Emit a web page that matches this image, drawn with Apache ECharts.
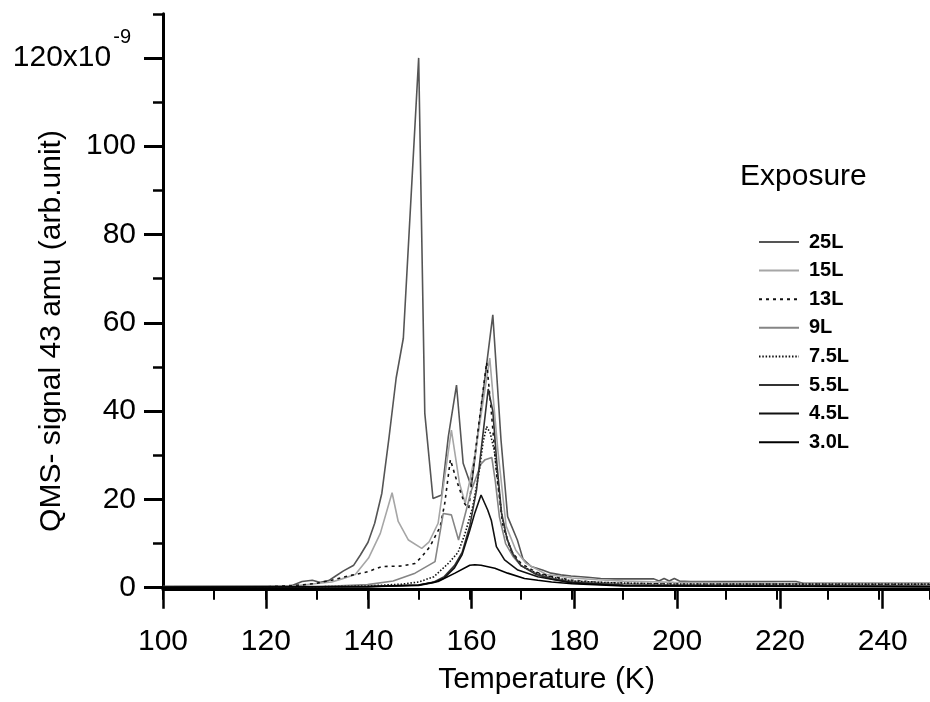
<!DOCTYPE html>
<html><head><meta charset="utf-8">
<script src="https://cdn.jsdelivr.net/npm/echarts@6/dist/echarts.min.js"></script>
<style>html,body{margin:0;padding:0;background:#fff}#c{width:930px;height:702px}</style>
</head><body><div id="c"></div>
<script>
// ---- data (Temperature in K, signal in units of 1e-9) ----
const seriesNames = ['25L','15L','13L','9L','7.5L','5.5L','4.5L','3.0L'];
const xTickLabels = [100,120,140,160,180,200,220,240];
const yTickLabels = [0,20,40,60,80,100,120];

const t25 = [100,110,120,125,127.2,129.2,130.8,132.4,133.7,135.3,137.3,138.6,140.1,141.4,142.8,144.2,145.6,147,150,151.2,152.8,154.5,155.8,157.4,158.7,160.3,164.5,166.1,167.4,169.3,170.4,172,174.2,175.9,177.8,179.8,183,185.6,188.2,196,197,198,199,200,201,203.1,223.8,225.2,250];
const v25 = [0.3,0.3,0.3,0.4,1.4,1.7,1.2,1.6,2.6,3.8,5.1,7.4,10.3,14.6,21.4,34,47.5,56.5,120,39.5,20.2,21,34.2,45.9,28.2,22.9,61.8,33.5,16.1,10.8,6.5,4.8,4,3.3,2.9,2.65,2.35,2.1,2.0,2.0,1.5,2.1,1.5,2.1,1.5,1.4,1.4,1.0,1.0];

const t15 = [100,115,125,130.5,133,135,137.6,140.2,142.5,144.8,146,148,150.6,152,153.8,156.4,158,159.1,161,163.9,165.5,167.1,169,171,175,180,185,190,200,220,250];
const v15 = [0.2,0.2,0.3,1.0,1.3,2,3,6.7,12.3,21.5,15,10.8,8.9,10.3,14.6,35.7,23.6,19.1,30,52,31,14,8.5,5.5,3.0,2.2,1.8,1.5,1.2,1.0,0.9];

const t13 = [100,120,127,130,133,136,140,142.8,146.7,149.3,150.6,152.2,154.2,155.1,156.2,157.5,159,159.8,161,162.3,163.3,164.2,165.3,166.5,168,170,173,176,180,185,190,200,250];
const v13 = [0.2,0.2,0.6,1.0,1.7,2.6,3.6,4.8,4.9,5.5,7,9.3,13.8,19.1,29,24,19,18,30,42,51,40,25,14,8.5,5.5,3.5,2.5,1.7,1.2,1.0,0.8,0.7];

const t9 = [100,130,140,145,149.3,153.2,154.8,156.4,157.8,160.3,162.2,163,164.3,165,165.8,167,168.5,170,173,176,180,190,200,250];
const v9 = [0.2,0.2,0.7,1.5,3.3,5.9,16.8,16.5,10.8,22,28,29,29.5,24,16,10,7,5,3.2,2.2,1.5,0.9,0.6,0.5];

const t75 = [100,130,140,146.7,150,153,155.8,157.7,159,160.5,161.8,162.6,163.3,164,164.8,165.5,166.3,167.3,168.5,170,173,176,180,188,200,250];
const v75 = [0.2,0.2,0.4,0.8,1.3,2.5,5.5,8,12,18,26,33,36.5,35,31,24,16,11,7.5,5,3.3,2.4,1.5,1.1,0.8,0.8];

const t55 = [100,140,150,153,155,157,158.5,160,161.3,162.3,163.6,164.5,165.3,166.2,167.3,168.5,170,173,176,180,190,250];
const v55 = [0.2,0.3,0.6,1.3,2.5,5,8,14,22,32,45,40,28,17,11,7.5,5,3,2,1.2,0.6,0.3];

const t45 = [100,140,150,153,155,157,158.5,160,161,162.2,163.5,164.2,165.2,166.8,169.4,173.3,176,180,190,250];
const v45 = [0.1,0.2,0.5,1.2,2.2,4.5,7.5,13,17,21,17.6,15.3,9.3,6.3,4,2.5,1.9,1.1,0.5,0.2];

const t30 = [100,140,150,153.8,157.1,160,161,162.2,164.9,167.4,170.7,173.3,176,180,190,250];
const v30 = [0.1,0.2,0.6,1.4,3.3,5.1,5.2,5.1,4.4,3.3,2.1,1.7,1.3,0.9,0.4,0.2];

const seriesT = [t25,t15,t13,t9,t75,t55,t45,t30];
const seriesV = [v25,v15,v13,v9,v75,v55,v45,v30];

// ---- styles ----
const styles = [
  {color:'#555555', width:1.6, type:'solid'},
  {color:'#a6a6a6', width:1.6, type:'solid'},
  {color:'#111111', width:1.6, type:[3,4]},
  {color:'#858585', width:1.6, type:'solid'},
  {color:'#111111', width:1.6, type:[1.5,1.8]},
  {color:'#333333', width:1.6, type:'solid'},
  {color:'#111111', width:1.6, type:'solid'},
  {color:'#000000', width:1.6, type:'solid'}
];

const FONT = 'Liberation Sans, Arial, sans-serif';
const FS = 30;
const L = 163, PXK = 5.141, Y0 = 587.7, PXV = 4.415;
const H = 702, W = 930;
const gridMain = {left:L, right: W-(L+150*PXK), top: Y0-130*PXV, bottom: H-Y0};
const gridMajor = {left:L, right: W-(L+140*PXK), top: Y0-120*PXV, bottom: H-Y0};

const chart = echarts.init(document.getElementById('c'), null, {renderer:'canvas'});
const series = seriesNames.map((n,i)=>({
  name:n, type:'line', xAxisIndex:0, yAxisIndex:0, symbol:'none', showSymbol:false,
  lineStyle:{color:styles[i].color, width:styles[i].width, type:styles[i].type},
  itemStyle:{color:styles[i].color},
  data: seriesT[i].map((t,k)=>[t, seriesV[i][k]])
}));

chart.setOption({
  animation:false,
  backgroundColor:'#ffffff',
  grid:[Object.assign({containLabel:false}, gridMain), Object.assign({containLabel:false}, gridMajor)],
  xAxis:[
    {type:'value', gridIndex:0, min:100, max:250, interval:10, offset:2,
     axisLine:{show:true, onZero:false, lineStyle:{color:'#000', width:3}},
     axisTick:{show:true, length:10, lineStyle:{color:'#000', width:2}},
     axisLabel:{show:false}, splitLine:{show:false},
     name:'Temperature (K)', nameLocation:'middle', nameGap:75,
     nameTextStyle:{fontFamily:FONT, fontSize:FS, color:'#000'}},
    {type:'value', gridIndex:1, min:100, max:240, interval:20, offset:2,
     axisLine:{show:false, onZero:false},
     axisTick:{show:true, length:19, lineStyle:{color:'#000', width:2.5}},
     axisLabel:{show:true, margin:37, fontFamily:FONT, fontSize:FS, color:'#000'},
     splitLine:{show:false}}
  ],
  yAxis:[
    {type:'value', gridIndex:0, min:0, max:130, interval:10,
     axisLine:{show:true, onZero:false, lineStyle:{color:'#000', width:3}},
     axisTick:{show:true, length:10, lineStyle:{color:'#000', width:2.5}},
     axisLabel:{show:false}, splitLine:{show:false}},
    {type:'value', gridIndex:1, min:0, max:120, interval:20,
     axisLine:{show:false, onZero:false},
     axisTick:{show:true, length:19, lineStyle:{color:'#000', width:3}},
     axisLabel:{show:true, margin:27,
       formatter:(v)=> v===120 ? '{a|120x10}{s|-9}' : '{a|'+v+'}',
       rich:{
         a:{fontFamily:FONT, fontSize:FS, lineHeight:FS, color:'#000', verticalAlign:'middle'},
         s:{fontFamily:FONT, fontSize:20, lineHeight:20, color:'#000', verticalAlign:'middle', padding:[0,5,40,2]}
       }},
     splitLine:{show:false}}
  ],
  legend:{
    orient:'vertical', left:753, top:227, itemWidth:40, itemHeight:14, itemGap:8.6,
    itemStyle:{opacity:0},
    data:seriesNames,
    textStyle:{fontFamily:FONT, fontSize:20, fontWeight:'bold', color:'#000', lineHeight:20, padding:[0,0,0,5]}
  },
  graphic:[
    {type:'text', left:740, top:162, style:{text:'Exposure', fontFamily:FONT, fontSize:FS, fill:'#000'}},
    {type:'text', x:52, y:331, rotation:Math.PI/2,
     style:{text:'QMS- signal 43 amu (arb.unit)', fontFamily:FONT, fontSize:FS, fill:'#000', align:'center', verticalAlign:'middle'}}
  ],
  series:series
});
</script></body></html>
